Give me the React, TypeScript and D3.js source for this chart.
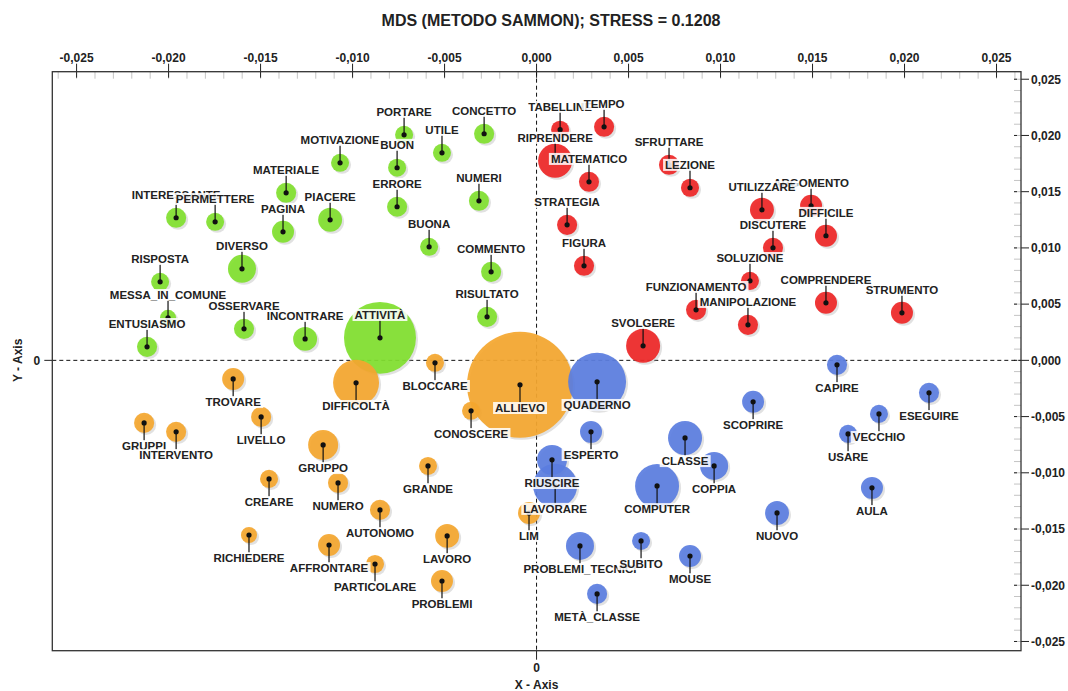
import { useEffect, useRef } from "react"
import * as d3 from "d3"

// [parola, x, y, peso]
type Punto = [string, number, number, number]

const titolo = "MDS (METODO SAMMON); STRESS = 0.1208"

const verdi: Punto[] = [
    ["PORTARE", -0.0072, 0.02006, 2.9],
    ["CONCETTO", -0.00285, 0.02015, 3.6],
    ["UTILE", -0.00514, 0.01846, 2.9],
    ["MOTIVAZIONE", -0.01068, 0.01757, 2.9],
    ["BUON", -0.00758, 0.01713, 2.9],
    ["MATERIALE", -0.01361, 0.0149, 3.6],
    ["NUMERI", -0.00313, 0.01419, 3.6],
    ["ERRORE", -0.00758, 0.01366, 3.6],
    ["INTERESSANTE", -0.01959, 0.01268, 3.6],
    ["PERMETTERE", -0.01747, 0.01232, 2.9],
    ["PAGINA", -0.01378, 0.01143, 4.3],
    ["PIACERE", -0.01122, 0.0125, 5.1],
    ["BUONA", -0.00584, 0.0101, 2.9],
    ["COMMENTO", -0.00247, 0.00787, 3.6],
    ["DIVERSO", -0.01601, 0.00814, 7.0],
    ["RISPOSTA", -0.02046, 0.00698, 2.9],
    ["MESSA_IN_COMUNE", -0.02003, 0.00378, 2.3],
    ["ENTUSIASMO", -0.02117, 0.0012, 3.6],
    ["OSSERVARE", -0.0159, 0.0028, 3.6],
    ["INCONTRARE", -0.01258, 0.00191, 5.1],
    ["ATTIVITÀ", -0.00851, 0.002, 46.1],
    ["RISULTATO", -0.00269, 0.00387, 3.6],
]

const rossi: Punto[] = [
    ["TABELLINE", 0.00128, 0.02051, 2.9],
    ["TEMPO", 0.00367, 0.02077, 3.6],
    ["RIPRENDERE", 0.00101, 0.01775, 10.3],
    ["MATEMATICO", 0.00285, 0.01588, 3.6],
    ["SFRUTTARE", 0.0072, 0.01739, 3.6],
    ["LEZIONE", 0.00834, 0.01535, 2.9],
    ["ARGOMENTO", 0.01492, 0.01375, 4.3],
    ["UTILIZZARE", 0.01225, 0.01339, 5.1],
    ["DIFFICILE", 0.01573, 0.01108, 4.3],
    ["DISCUTERE", 0.01285, 0.01001, 3.6],
    ["STRATEGIA", 0.00166, 0.01205, 3.6],
    ["FIGURA", 0.00258, 0.00841, 3.6],
    ["SOLUZIONE", 0.0116, 0.00707, 2.9],
    ["FUNZIONAMENTO", 0.00867, 0.00449, 3.6],
    ["MANIPOLAZIONE", 0.01149, 0.00316, 3.6],
    ["COMPRENDERE", 0.01573, 0.00512, 4.3],
    ["STRUMENTO", 0.01986, 0.00423, 4.3],
    ["SVOLGERE", 0.00579, 0.00129, 10.3],
]

const arancioni: Punto[] = [
    ["ALLIEVO", -0.0009, -0.00218, 100],
    ["BLOCCARE", -0.00552, -0.00022, 2.9],
    ["DIFFICOLTÀ", -0.00981, -0.002, 18.8],
    ["TROVARE", -0.01649, -0.00165, 4.3],
    ["CONOSCERE", -0.00356, -0.00449, 2.9],
    ["GRUPPI", -0.02133, -0.00556, 3.6],
    ["INTERVENTO", -0.01959, -0.00636, 3.6],
    ["LIVELLO", -0.01497, -0.00503, 3.6],
    ["GRUPPO", -0.0116, -0.00752, 8.0],
    ["GRANDE", -0.0059, -0.00939, 2.9],
    ["CREARE", -0.01454, -0.01054, 2.9],
    ["NUMERO", -0.01079, -0.0109, 3.6],
    ["AUTONOMO", -0.00851, -0.0133, 3.6],
    ["RICHIEDERE", -0.01563, -0.01553, 2.3],
    ["AFFRONTARE", -0.01128, -0.01642, 4.3],
    ["PARTICOLARE", -0.00878, -0.01811, 2.9],
    ["LAVORO", -0.00486, -0.01561, 5.1],
    ["PROBLEMI", -0.00514, -0.01962, 4.3],
    ["LIM", -0.00041, -0.01357, 4.3],
]

const blu: Punto[] = [
    ["QUADERNO", 0.00329, -0.00191, 29.9],
    ["ESPERTO", 0.00296, -0.00636, 4.3],
    ["LAVORARE", 0.00101, -0.01115, 17.2],
    ["RIUSCIRE", 0.00084, -0.00885, 8.0],
    ["CLASSE", 0.00807, -0.0069, 10.3],
    ["COPPIA", 0.00965, -0.00939, 7.0],
    ["COMPUTER", 0.00655, -0.01117, 17.2],
    ["SCOPRIRE", 0.01177, -0.00369, 4.3],
    ["CAPIRE", 0.01633, -0.0004, 3.6],
    ["ESEGUIRE", 0.02133, -0.00289, 3.6],
    ["USARE", 0.01693, -0.00654, 2.9],
    ["VECCHIO", 0.01861, -0.00476, 2.9],
    ["AULA", 0.01823, -0.01134, 4.3],
    ["NUOVO", 0.01307, -0.01357, 5.1],
    ["MOUSE", 0.00834, -0.0174, 4.3],
    ["PROBLEMI_TECNICI", 0.00236, -0.0165, 7.0],
    ["SUBITO", 0.00568, -0.01606, 2.9],
    ["METÀ_CLASSE", 0.00329, -0.02077, 3.6],
]

const tickMaggiori = [-0.025, -0.02, -0.015, -0.01, -0.005, 0, 0.005, 0.01, 0.015, 0.02, 0.025]

const FONT = "'Liberation Sans', Arial, sans-serif"

const gruppi = [
    { punti: verdi, colore: "#80DF2E", sopra: true },
    { punti: rossi, colore: "#EE2626", sopra: true },
    { punti: arancioni, colore: "#F4A62E", sopra: false },
    { punti: blu, colore: "#5A7DE0", sopra: false },
]

const virgola = (v: number) => (v < 0 ? "-" : "") + Math.abs(v).toFixed(3).replace(".", ",")

export default function App() {
    const svgRef = useRef<SVGSVGElement>(null)

    useEffect(() => {
        if (!svgRef.current) return
        const svg = d3.select(svgRef.current)
        svg.selectAll("*").remove()

        const x = d3.scaleLinear().domain([-0.02632, 0.02633]).range([52.3, 1021])
        const y = d3.scaleLinear().domain([-0.02582, 0.02567]).range([650.7, 71.7])
        const r = d3.scaleSqrt().domain([0, 100]).range([0, 53])
        const [xl, xr] = x.range()
        const [yb, yt] = y.range()

        svg.append("text")
            .attr("x", 551).attr("y", 26)
            .attr("text-anchor", "middle")
            .attr("font-family", FONT).attr("font-weight", "bold").attr("font-size", 16)
            .attr("fill", "#222")
            .text(titolo)

        // tacche minori (alto e destra)
        const minori = d3.range(-26, 27).map(i => i / 1000)
        svg.append("g").selectAll("line").data(minori.filter(v => x(v) > xl + 1 && x(v) < xr - 1)).join("line")
            .attr("x1", d => x(d)).attr("x2", d => x(d))
            .attr("y1", yt).attr("y2", yt + 7)
            .attr("stroke", "#c4c4c4")
        svg.append("g").selectAll("line").data(minori.filter(v => y(v) > yt + 1 && y(v) < yb - 1)).join("line")
            .attr("x1", xr - 7).attr("x2", xr)
            .attr("y1", d => y(d)).attr("y2", d => y(d))
            .attr("stroke", "#c4c4c4")

        // asse superiore
        const top = svg.append("g")
        top.selectAll("line").data(tickMaggiori).join("line")
            .attr("x1", d => x(d)).attr("x2", d => x(d))
            .attr("y1", yt - 8).attr("y2", yt + 6)
            .attr("stroke", "#222")
        top.selectAll("text").data(tickMaggiori).join("text")
            .attr("x", d => x(d)).attr("y", 62)
            .attr("text-anchor", "middle")
            .attr("font-family", FONT).attr("font-weight", "bold").attr("font-size", 12)
            .attr("fill", "#222")
            .text(d => virgola(d))

        // asse destro
        const dx = svg.append("g")
        dx.selectAll("line.o").data(tickMaggiori).join("line")
            .attr("class", "o")
            .attr("x1", xr).attr("x2", xr + 8)
            .attr("y1", d => y(d)).attr("y2", d => y(d))
            .attr("stroke", "#222")
        dx.selectAll("line.i").data(tickMaggiori).join("line")
            .attr("class", "i")
            .attr("x1", xr - 7).attr("x2", xr - 4)
            .attr("y1", d => y(d)).attr("y2", d => y(d))
            .attr("stroke", "#222")
        dx.selectAll("text").data(tickMaggiori).join("text")
            .attr("x", xr + 10).attr("y", d => y(d)).attr("dy", "0.36em")
            .attr("font-family", FONT).attr("font-weight", "bold").attr("font-size", 12)
            .attr("fill", "#222")
            .text(d => virgola(d))

        // assi inferiore e sinistro
        svg.append("line").attr("x1", x(0)).attr("x2", x(0)).attr("y1", yb).attr("y2", yb + 9).attr("stroke", "#222")
        svg.append("text").attr("x", x(0)).attr("y", yb + 21).attr("text-anchor", "middle")
            .attr("font-family", FONT).attr("font-weight", "bold").attr("font-size", 12).attr("fill", "#222").text("0")
        svg.append("text").attr("x", x(0)).attr("y", yb + 38).attr("text-anchor", "middle")
            .attr("font-family", FONT).attr("font-weight", "bold").attr("font-size", 12).attr("fill", "#222").text("X - Axis")
        svg.append("line").attr("x1", xl - 8).attr("x2", xl).attr("y1", y(0)).attr("y2", y(0)).attr("stroke", "#222")
        svg.append("text").attr("x", xl - 12).attr("y", y(0)).attr("dy", "0.36em").attr("text-anchor", "end")
            .attr("font-family", FONT).attr("font-weight", "bold").attr("font-size", 12).attr("fill", "#222").text("0")
        svg.append("text").attr("transform", `translate(22,${y(0)}) rotate(-90)`).attr("text-anchor", "middle")
            .attr("font-family", FONT).attr("font-weight", "bold").attr("font-size", 12).attr("fill", "#222").text("Y - Axis")

        // linee tratteggiate dell'origine
        svg.append("line").attr("x1", xl).attr("x2", xr).attr("y1", y(0)).attr("y2", y(0))
            .attr("stroke", "#111").attr("stroke-dasharray", "4,3")
        svg.append("line").attr("x1", x(0)).attr("x2", x(0)).attr("y1", yt).attr("y2", yb)
            .attr("stroke", "#111").attr("stroke-dasharray", "4,3")

        // bolle
        const bolle = svg.append("g")
        gruppi.forEach(g => {
            bolle.append("g").selectAll("circle").data(g.punti).join("circle")
                .attr("cx", d => x(d[1]) + 2).attr("cy", d => y(d[2]) + 2).attr("r", d => r(d[3]))
                .attr("fill", "#9a9a9a").attr("opacity", 0.3)
            bolle.append("g").selectAll("circle").data(g.punti).join("circle")
                .attr("cx", d => x(d[1])).attr("cy", d => y(d[2])).attr("r", d => r(d[3]))
                .attr("fill", g.colore).attr("opacity", 0.92)
        })

        // etichette
        const etichette = svg.append("g")
        gruppi.forEach(g => {
            g.punti.forEach(d => {
                const cx = x(d[1]), cy = y(d[2])
                const ly = g.sopra ? cy - 23 : cy + 23
                const e = etichette.append("g")
                e.append("line")
                    .attr("x1", cx).attr("x2", cx)
                    .attr("y1", cy).attr("y2", g.sopra ? ly + 5 : ly - 5)
                    .attr("stroke", "#111").attr("stroke-width", 1.2)
                e.append("circle").attr("cx", cx).attr("cy", cy).attr("r", 2.6).attr("fill", "#111")
                const t = e.append("text")
                    .attr("x", cx).attr("y", ly).attr("dy", "0.36em")
                    .attr("text-anchor", "middle")
                    .attr("font-family", FONT).attr("font-weight", "bold").attr("font-size", 11.5)
                    .attr("fill", "#222")
                    .text(d[0])
                const b = (t.node() as SVGTextElement).getBBox()
                e.insert("rect", "text")
                    .attr("x", b.x - 2).attr("y", b.y)
                    .attr("width", b.width + 4).attr("height", b.height)
                    .attr("fill", "#fff").attr("opacity", 0.85)
            })
        })

        svg.append("rect")
            .attr("x", xl).attr("y", yt).attr("width", xr - xl).attr("height", yb - yt)
            .attr("fill", "none").attr("stroke", "#333").attr("stroke-width", 1.3)
    }, [])

    return <div style={{ position: "absolute", left: 0, top: 0 }}>
        <svg ref={svgRef} width={1068} height={691} style={{ display: "block", background: "#fff" }} />
    </div>
}
